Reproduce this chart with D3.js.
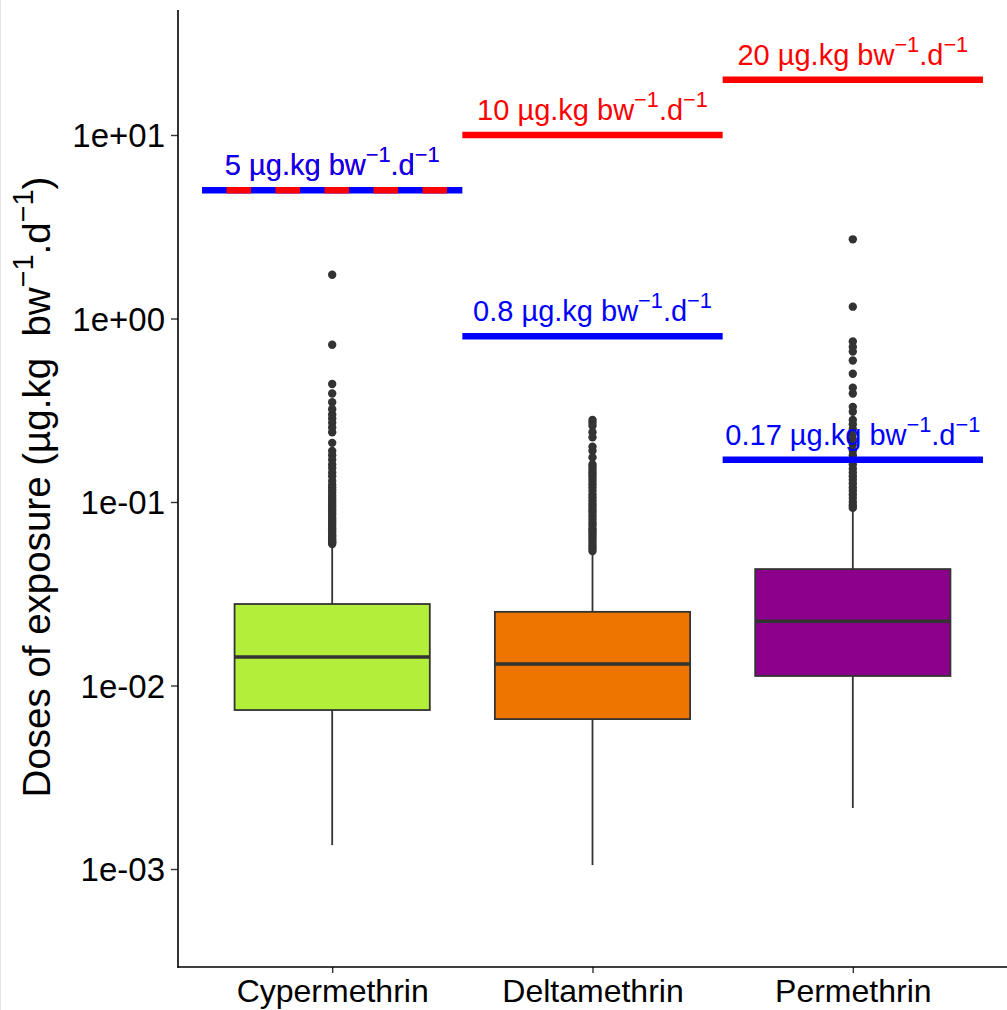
<!DOCTYPE html>
<html>
<head>
<meta charset="utf-8">
<script src="https://cdn.jsdelivr.net/npm/d3@7"></script>
<style>
  body { margin: 0; background: #fff; }
  svg { font-family: "Liberation Sans", Arial, Helvetica, sans-serif; }
</style>
</head>
<body>
<svg id="chart"></svg>
<script>
// ---- data ----
const categories = ['Cypermethrin', 'Deltamethrin', 'Permethrin'];
const boxFills = ['#B3EE3A', '#EE7600', '#8B008B'];
const whiskerLow = [0.00135, 0.00105, 0.00215];
const q1 = [0.00735, 0.00656, 0.01127];
const medians = [0.0143, 0.0131, 0.0224];
const q3 = [0.0278, 0.0252, 0.0431];
const whiskerHigh = [0.058, 0.052, 0.09];

const outliersCyp = [1.73, 0.72, 0.44, 0.39, 0.35, 0.32, 0.30, 0.285, 0.27, 0.255, 0.24,
  0.21, 0.19, 0.18, 0.17, 0.16, 0.153, 0.145, 0.138, 0.13, 0.124, 0.12, 0.116, 0.112,
  0.108, 0.105, 0.102, 0.099, 0.096, 0.093, 0.09, 0.087, 0.085, 0.082, 0.08, 0.078,
  0.076, 0.074, 0.072, 0.07, 0.068, 0.066, 0.065, 0.063, 0.062, 0.061, 0.06, 0.059];
const outliersDelta = [0.28, 0.27, 0.26, 0.24, 0.225, 0.20, 0.19, 0.175, 0.16, 0.155,
  0.15, 0.145, 0.14, 0.135, 0.13, 0.125, 0.12, 0.115, 0.11, 0.106, 0.102, 0.098, 0.095,
  0.092, 0.089, 0.086, 0.083, 0.08, 0.077, 0.075, 0.072, 0.07, 0.068, 0.066, 0.064,
  0.062, 0.06, 0.058, 0.056, 0.054];
const outliersPerm = [2.7, 1.16, 0.75, 0.70, 0.66, 0.59, 0.50, 0.42, 0.39, 0.33, 0.31,
  0.28, 0.265, 0.25, 0.235, 0.22, 0.205, 0.19, 0.18, 0.17, 0.16, 0.152, 0.145, 0.138,
  0.132, 0.126, 0.12, 0.115, 0.11, 0.105, 0.10, 0.096, 0.093];
const outliers = [outliersCyp, outliersDelta, outliersPerm];

// reference doses (line across the category band + label)
const refCategory = [0, 1, 2, 1, 2];
const refValues = [5, 10, 20, 0.8, 0.17];
const refNumbers = ['5', '10', '20', '0.8', '0.17'];
const refKinds = ['both', 'red', 'red', 'blue', 'blue'];

const yTickValues = [1e-3, 1e-2, 1e-1, 1, 10];
const yTickLabels = ['1e-03', '1e-02', '1e-01', '1e+00', '1e+01'];

// ---- layout ----
const width = 1007, height = 1010;
const axisX = 178, axisY = 967, topY = 10;
const RED = '#FF0000', BLUE = '#0000FF';

const svg = d3.select('#chart')
  .attr('width', width)
  .attr('height', height);

const x = d3.scalePoint()
  .domain(categories)
  .range([176, 1009])
  .padding(0.6);
const step = x.step();
const boxW = step * 0.75;

const y = d3.scaleLog()
  .domain([1e-3, 10])
  .range([869, 135]);

// axes
const yAxis = d3.axisLeft(y)
  .tickValues(yTickValues)
  .tickFormat((d, i) => yTickLabels[i])
  .tickSize(7)
  .tickPadding(6)
  .tickSizeOuter(0);

const yAxisG = svg.append('g')
  .attr('transform', `translate(${axisX},0)`)
  .call(yAxis);
yAxisG.select('.domain').remove();
yAxisG.selectAll('.tick line').attr('stroke', '#333').attr('stroke-width', 1.4);
yAxisG.selectAll('.tick text')
  .attr('fill', '#000')
  .style('font-size', '33px')
  .attr('dy', '0.36em');

const xAxis = d3.axisBottom(x)
  .tickSize(6)
  .tickPadding(7)
  .tickSizeOuter(0);

const xAxisG = svg.append('g')
  .attr('transform', `translate(0,${axisY})`)
  .call(xAxis);
xAxisG.select('.domain').remove();
xAxisG.selectAll('.tick line').attr('stroke', '#333').attr('stroke-width', 1.4);
xAxisG.selectAll('.tick text')
  .attr('fill', '#000')
  .style('font-size', '32px')
  .attr('dy', '0.7em');

// axis lines
svg.append('line')
  .attr('x1', axisX).attr('x2', axisX)
  .attr('y1', topY).attr('y2', axisY + 0.7)
  .attr('stroke', '#000').attr('stroke-width', 1.6);
svg.append('line')
  .attr('x1', axisX - 0.7).attr('x2', width)
  .attr('y1', axisY).attr('y2', axisY)
  .attr('stroke', '#000').attr('stroke-width', 1.6);

// ---- boxplots ----
const boxData = categories.map((c, i) => ({
  cat: c, fill: boxFills[i], lo: whiskerLow[i], q1: q1[i], med: medians[i],
  q3: q3[i], hi: whiskerHigh[i], out: outliers[i],
}));

const boxes = svg.append('g')
  .selectAll('g')
  .data(boxData)
  .join('g')
  .attr('transform', (d) => `translate(${x(d.cat)},0)`);

boxes.append('line')
  .attr('x1', 0).attr('x2', 0)
  .attr('y1', (d) => y(d.lo)).attr('y2', (d) => y(d.q1))
  .attr('stroke', '#333').attr('stroke-width', 1.8);
boxes.append('line')
  .attr('x1', 0).attr('x2', 0)
  .attr('y1', (d) => y(d.q3)).attr('y2', (d) => y(d.hi))
  .attr('stroke', '#333').attr('stroke-width', 1.8);

boxes.append('rect')
  .attr('x', -boxW / 2)
  .attr('width', boxW)
  .attr('y', (d) => y(d.q3))
  .attr('height', (d) => y(d.q1) - y(d.q3))
  .attr('fill', (d) => d.fill)
  .attr('stroke', '#333')
  .attr('stroke-width', 1.8);

boxes.append('line')
  .attr('x1', -boxW / 2).attr('x2', boxW / 2)
  .attr('y1', (d) => y(d.med)).attr('y2', (d) => y(d.med))
  .attr('stroke', '#333').attr('stroke-width', 3.4);

boxes.selectAll('circle')
  .data((d) => d.out)
  .join('circle')
  .attr('cx', 0)
  .attr('cy', (d) => y(d))
  .attr('r', 4.2)
  .attr('fill', '#333');

// ---- reference lines ----
const refData = refValues.map((v, i) => ({
  cat: categories[refCategory[i]], value: v, num: refNumbers[i], kind: refKinds[i],
}));

const refG = svg.append('g');
refData.forEach((d) => {
  const cx = x(d.cat);
  const x1 = cx - step / 2;
  const x2 = cx + step / 2;
  const yy = y(d.value);
  refG.append('line')
    .attr('x1', x1).attr('x2', x2)
    .attr('y1', yy).attr('y2', yy)
    .attr('stroke-width', 6.5)
    .attr('stroke', d.kind === 'red' ? RED : BLUE);
  if (d.kind === 'both') {
    refG.append('line')
      .attr('x1', x1).attr('x2', x2)
      .attr('y1', yy).attr('y2', yy)
      .attr('stroke-width', 6.5)
      .attr('stroke', RED)
      .attr('stroke-dasharray', '24.5,24.5')
      .attr('stroke-dashoffset', 24.5);
  }
  const colors = d.kind === 'both' ? [RED, BLUE] : [d.kind === 'red' ? RED : BLUE];
  colors.forEach((col) => {
    doseLabel(refG, cx, yy - 15, d.num + ' µg.kg bw', col, 29);
  });
});

// text with two "−1" superscripts: "<lead>⁻¹.d⁻¹"
function doseLabel(g, cx, by, lead, color, size) {
  const sup = size * 0.75;
  const rise = size * 0.45;
  const t = g.append('text')
    .attr('x', cx)
    .attr('y', by)
    .attr('text-anchor', 'middle')
    .attr('fill', color)
    .style('font-size', size + 'px');
  t.append('tspan').text(lead);
  t.append('tspan').attr('dy', -rise).style('font-size', sup + 'px').text('\u22121');
  t.append('tspan').attr('dy', rise).text('.d');
  t.append('tspan').attr('dy', -rise).style('font-size', sup + 'px').text('\u22121');
  return t;
}

// ---- y-axis title ----
const ySize = 38.5;
const yt = svg.append('text')
  .attr('transform', 'translate(50,487) rotate(-90)')
  .attr('text-anchor', 'middle')
  .attr('fill', '#000')
  .style('font-size', ySize + 'px');
const ySup = ySize * 0.75, yRise = ySize * 0.45;
yt.append('tspan').text('Doses of exposure (µg.kg\u00a0\u00a0bw');
yt.append('tspan').attr('dy', -yRise).style('font-size', ySup + 'px').text('\u22121');
yt.append('tspan').attr('dy', yRise).text('.d');
yt.append('tspan').attr('dy', -yRise).style('font-size', ySup + 'px').text('\u22121');
yt.append('tspan').attr('dy', yRise).text(')');

// faint page edge on the left, as in the reference
svg.append('line')
  .attr('x1', 0.5).attr('x2', 0.5)
  .attr('y1', 0).attr('y2', height)
  .attr('stroke', '#e6e6e6');
</script>
</body>
</html>
